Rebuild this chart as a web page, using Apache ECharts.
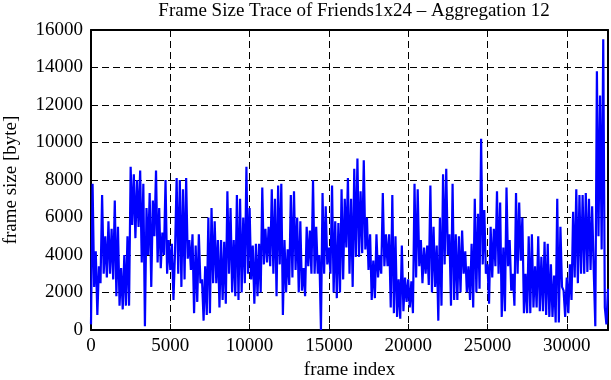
<!DOCTYPE html>
<html>
<head>
<meta charset="utf-8">
<script src="https://cdn.jsdelivr.net/npm/echarts@6/dist/echarts.min.js"></script>
<style>html,body{margin:0;padding:0;background:#fff}#c{width:611px;height:380px}</style>
</head>
<body>
<div id="c"></div>
<script>
const titleText = 'Frame Size Trace of Friends1x24 \u2013 Aggregation 12';
const xName = 'frame index';
const yName = 'frame size [byte]';
const frameStep = 100;
const xMax = 32600;
const yMax = 16000;
const xTickStep = 5000;
const yTickStep = 2000;
const frameSizes = [
300,7800, 2300,4200, 800,3400, 2500,7200, 3000,5000, 2800,5800, 3000,5400, 2700,6900, 1800,5500, 1300,3300,
1100,4000, 1300,5000, 1300,8700, 5600,8300, 4900,8000, 5500,8500, 3600,7800, 200,6500, 4000,7300, 2300,6900,
5000,8500, 3600,6500, 3300,5200, 4000,8000, 3000,4800, 3200,4600, 1600,4200, 8100,3000, 8000,2300, 7500,2700,
8100,3800, 4800,3200, 5100,900, 4500,1500, 5100,2500, 2700,500, 3400,800, 6000,900, 6500,2500, 5800,2500,
4800,1200, 4800,1600, 4700,1400, 7400,3000, 6500,2000, 4800,1800, 7200,1600, 7000,2000, 6000,2500, 8700,3000,
6500,2700, 4500,1400, 4600,1800, 4600,2000, 7600,3500, 5400,3600, 5500,3400, 7500,3000, 7000,1800, 7700,3500,
7800,800, 4800,2000, 4300,2400, 7200,2800, 7400,3200, 6000,2000, 5800,2100, 3300,1800, 5500,3400, 5300,3000,
8000,3000, 5500,3000, 4000,0, 7300,3000, 6600,3500, 4400,3000, 7700,2000, 5800,1700, 5700,2000, 7500,2700,
7000,4400, 8100,3000, 7000,2300, 8600,3900, 9150,3900, 7400,4100, 9050,4300, 6000,3200, 5100,1600, 3700,1700,
5100,2800, 4000,3000, 7300,3400, 5100,3400, 5100,1200, 7200,900, 5000,700, 2700,600, 4500,1000, 2800,1500,
2700,1200, 2600,900, 7800,2800, 7500,3400, 4800,2500, 4400,3000, 4500,2400, 7700,2000, 5500,2300, 4500,500,
6000,1300, 8300,3500, 8600,4000, 5100,1300, 7800,1600, 5100,1600, 5000,2000, 5300,3000, 4200,2000, 3400,1600,
4600,1200, 7000,2000, 6200,2200, 10200,3500, 6400,3000, 3500,1400, 5500,2800, 5400,3400, 7400,3000, 6800,700,
4400,1000, 7600,3400, 4800,2100, 3000,1300, 7300,3000, 6800,3700, 6000,900, 3000,900, 5000,900, 5100,1200,
3400,1200, 5000,1000, 3900,1000, 4700,800, 4600,700, 3500,700, 2900,400, 7000,400, 5500,2300, 2100,700,
2800,900, 3500,1600, 6300,2800, 7500,2500, 7200,3000, 7200,3000, 7300,3100, 7000,3200, 6600,3200, 200,13800,
5000,12500, 4300,15500, 1200,300, 2200
];

const seriesData = frameSizes.map((v, i) => [i * frameStep, v]);
const font = 'Liberation Serif';
const fs = 19;
const plain = v => String(v);

const chart = echarts.init(document.getElementById('c'), null, {renderer: 'canvas'});
const gridLine = {show: true, lineStyle: {color: '#000', width: 1, type: [7, 4]}};
const axisLine = {show: true, onZero: false, lineStyle: {color: '#000', width: 2}};
const tick = {show: true, inside: true, length: 6, lineStyle: {color: '#000', width: 1}};
chart.setOption({
  animation: false,
  backgroundColor: '#fff',
  title: {
    text: titleText, left: 349, top: -3, textAlign: 'center',
    textStyle: {fontFamily: font, fontSize: 19, fontWeight: 'normal', color: '#000'}
  },
  grid: {left: 91, right: 3, top: 30, bottom: 50, containLabel: false, outerBoundsMode: 'none'},
  xAxis: [{
    type: 'value', min: 0, max: xMax, interval: xTickStep,
    name: xName, nameLocation: 'middle', nameGap: 27,
    nameTextStyle: {fontFamily: font, fontSize: fs, color: '#000'},
    axisLine: axisLine, axisTick: tick, splitLine: gridLine,
    axisLabel: {fontFamily: font, fontSize: fs, color: '#000', margin: 7, showMaxLabel: false, formatter: plain}
  }, {
    type: 'value', position: 'top', min: 0, max: xMax, interval: xTickStep,
    axisLine: axisLine, axisTick: tick, splitLine: {show: false}, axisLabel: {show: false}
  }],
  yAxis: [{
    type: 'value', min: 0, max: yMax, interval: yTickStep,
    name: yName, nameLocation: 'middle', nameGap: 70,
    nameTextStyle: {fontFamily: font, fontSize: fs, color: '#000'},
    axisLine: axisLine, axisTick: tick, splitLine: gridLine,
    axisLabel: {fontFamily: font, fontSize: fs, color: '#000', margin: 8, formatter: plain}
  }, {
    type: 'value', position: 'right', min: 0, max: yMax, interval: yTickStep,
    axisLine: axisLine, axisTick: tick, splitLine: {show: false}, axisLabel: {show: false}
  }],
  series: [{
    type: 'line', data: seriesData, showSymbol: false, symbol: 'none',
    lineStyle: {color: '#0000ff', width: 2.2}, z: 3
  }]
});
</script>
</body>
</html>
